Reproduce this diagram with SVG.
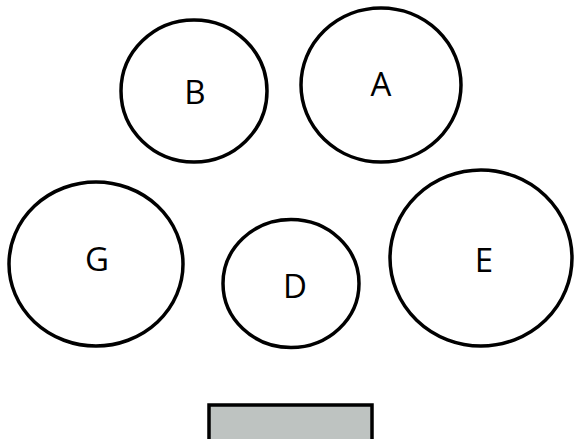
<svg xmlns="http://www.w3.org/2000/svg" width="575" height="439" viewBox="0 0 575 439">
<style>
.n{fill:#fff;stroke:#000;stroke-width:3.5}
.t{font-family:"Open Sans","Liberation Sans",sans-serif;font-size:33px;fill:#000;text-anchor:middle}
</style>
<rect width="575" height="439" fill="#fff"/>
<g id="connectors"></g>
<g id="B"><ellipse class="n" cx="194" cy="91" rx="73" ry="71"/><text class="t" x="195" y="104">B</text></g>
<g id="A"><ellipse class="n" cx="381" cy="85" rx="80" ry="77"/><text class="t" x="381" y="96">A</text></g>
<g id="G"><ellipse class="n" cx="96" cy="264" rx="87" ry="82"/><text class="t" x="97" y="271">G</text></g>
<g id="D"><ellipse class="n" cx="291" cy="283.5" rx="68" ry="64"/><text class="t" x="295" y="298">D</text></g>
<g id="E"><ellipse class="n" cx="481" cy="258" rx="91" ry="88"/><text class="t" x="484" y="272">E</text></g>
<g id="bar"><rect x="209" y="405" width="163" height="36" fill="#bec3c1" stroke="#000" stroke-width="3.5"/></g>
</svg>
